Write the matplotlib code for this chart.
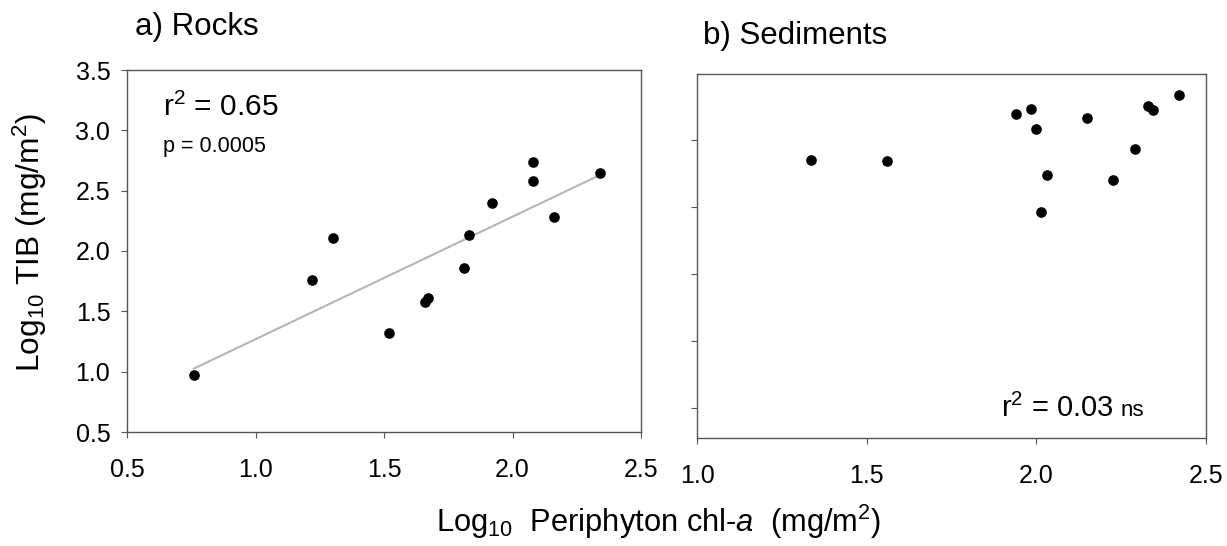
import numpy as np
import matplotlib
matplotlib.use("Agg")
import matplotlib.pyplot as plt

plt.rcParams['font.family'] = ['Liberation Sans', 'DejaVu Sans']
plt.rcParams['mathtext.fontset'] = 'custom'
plt.rcParams['mathtext.rm'] = 'Liberation Sans'
plt.rcParams['mathtext.it'] = 'Liberation Sans:italic'

# log10 periphyton chl-a vs log10 TIB, rock substrates
rocks_chla = [0.76, 1.22, 1.30, 1.52, 1.66, 1.67, 1.81, 1.83, 1.92, 2.08, 2.08, 2.16, 2.34]
rocks_tib = [0.97, 1.76, 2.11, 1.32, 1.58, 1.61, 1.86, 2.13, 2.40, 2.58, 2.74, 2.28, 2.65]

# sediment substrates
sed_chla = [1.335, 1.56, 1.94, 1.985, 2.00, 2.03, 2.015, 2.15, 2.225, 2.29, 2.33, 2.345, 2.42]
sed_tib = [2.85, 2.84, 3.19, 3.23, 3.08, 2.74, 2.46, 3.16, 2.70, 2.93, 3.25, 3.22, 3.33]

rocks_xticks = [0.5, 1.0, 1.5, 2.0, 2.5]
rocks_yticks = [0.5, 1.0, 1.5, 2.0, 2.5, 3.0, 3.5]
sed_xticks = [1.0, 1.5, 2.0, 2.5]
sed_yticks = [1.0, 1.5, 2.0, 2.5, 3.0]

W, H = 1227, 546
fig = plt.figure(figsize=(W / 100, H / 100), dpi=100)

def px_axes(x0, y0, x1, y1):
    return fig.add_axes([x0 / W, 1 - y1 / H, (x1 - x0) / W, (y1 - y0) / H])

ax1 = px_axes(127, 70, 641, 432)
ax2 = px_axes(697, 74, 1206, 438)

spine_col = '#555555'
for ax in (ax1, ax2):
    for s in ax.spines.values():
        s.set_color(spine_col)
        s.set_linewidth(1.0)
    ax.tick_params(direction='out', length=4, width=0.8, color=spine_col,
                   labelsize=18, pad=15)
    ax.tick_params(axis='y', pad=8)

# rocks panel
ax1.scatter(rocks_chla, rocks_tib, s=44, color='black', zorder=3)
slope, icpt = np.polyfit(rocks_chla, rocks_tib, 1)
xl = np.array([min(rocks_chla), max(rocks_chla)])
ax1.plot(xl, slope * xl + icpt, color='#b5b5b5', lw=1.5, zorder=2)
ax1.set_xlim(0.5, 2.5)
ax1.set_ylim(0.5, 3.5)
ax1.set_xticks(rocks_xticks)
ax1.set_yticks(rocks_yticks)
ax1.set_xticklabels([f'{v:.1f}' for v in rocks_xticks])
ax1.set_yticklabels([f'{v:.1f}' for v in rocks_yticks])

# sediments panel
ax2.scatter(sed_chla, sed_tib, s=44, color='black', zorder=3)
ax2.set_xlim(1.0, 2.5)
ax2.set_ylim(0.78, 3.49)
ax2.set_xticks(sed_xticks)
ax2.set_yticks(sed_yticks)
ax2.set_xticklabels([f'{v:.1f}' for v in sed_xticks])
ax2.set_yticklabels([])

# panel titles and stats
fig.text(135 / W, 1 - 27 / H, 'a) Rocks', fontsize=22.5, va='center', ha='left')
fig.text(703 / W, 1 - 36 / H, 'b) Sediments', fontsize=22.5, va='center', ha='left')
fig.text(163 / W, 1 - 107 / H, r'r$^2$ = 0.65', fontsize=21.5, va='center', ha='left')
fig.text(163 / W, 1 - 147 / H, 'p = 0.0005', fontsize=15.5, va='center', ha='left')
fig.text(1114 / W, 1 - 408 / H, r'r$^2$ = 0.03', fontsize=21, va='center', ha='right')
fig.text(1121 / W, 1 - 411 / H, 'ns', fontsize=16, va='center', ha='left')

fig.text(30 / W, 1 - 243 / H, r'Log$_{10}$ TIB (mg/m$^2$)', fontsize=22.8,
         rotation=90, va='center', ha='center')
fig.text(659 / W, 1 - 522 / H, r'Log$_{10}$  Periphyton chl-$\it{a}$  (mg/m$^2$)',
         fontsize=22.2, va='center', ha='center')

fig.savefig('out.png', dpi=100)
